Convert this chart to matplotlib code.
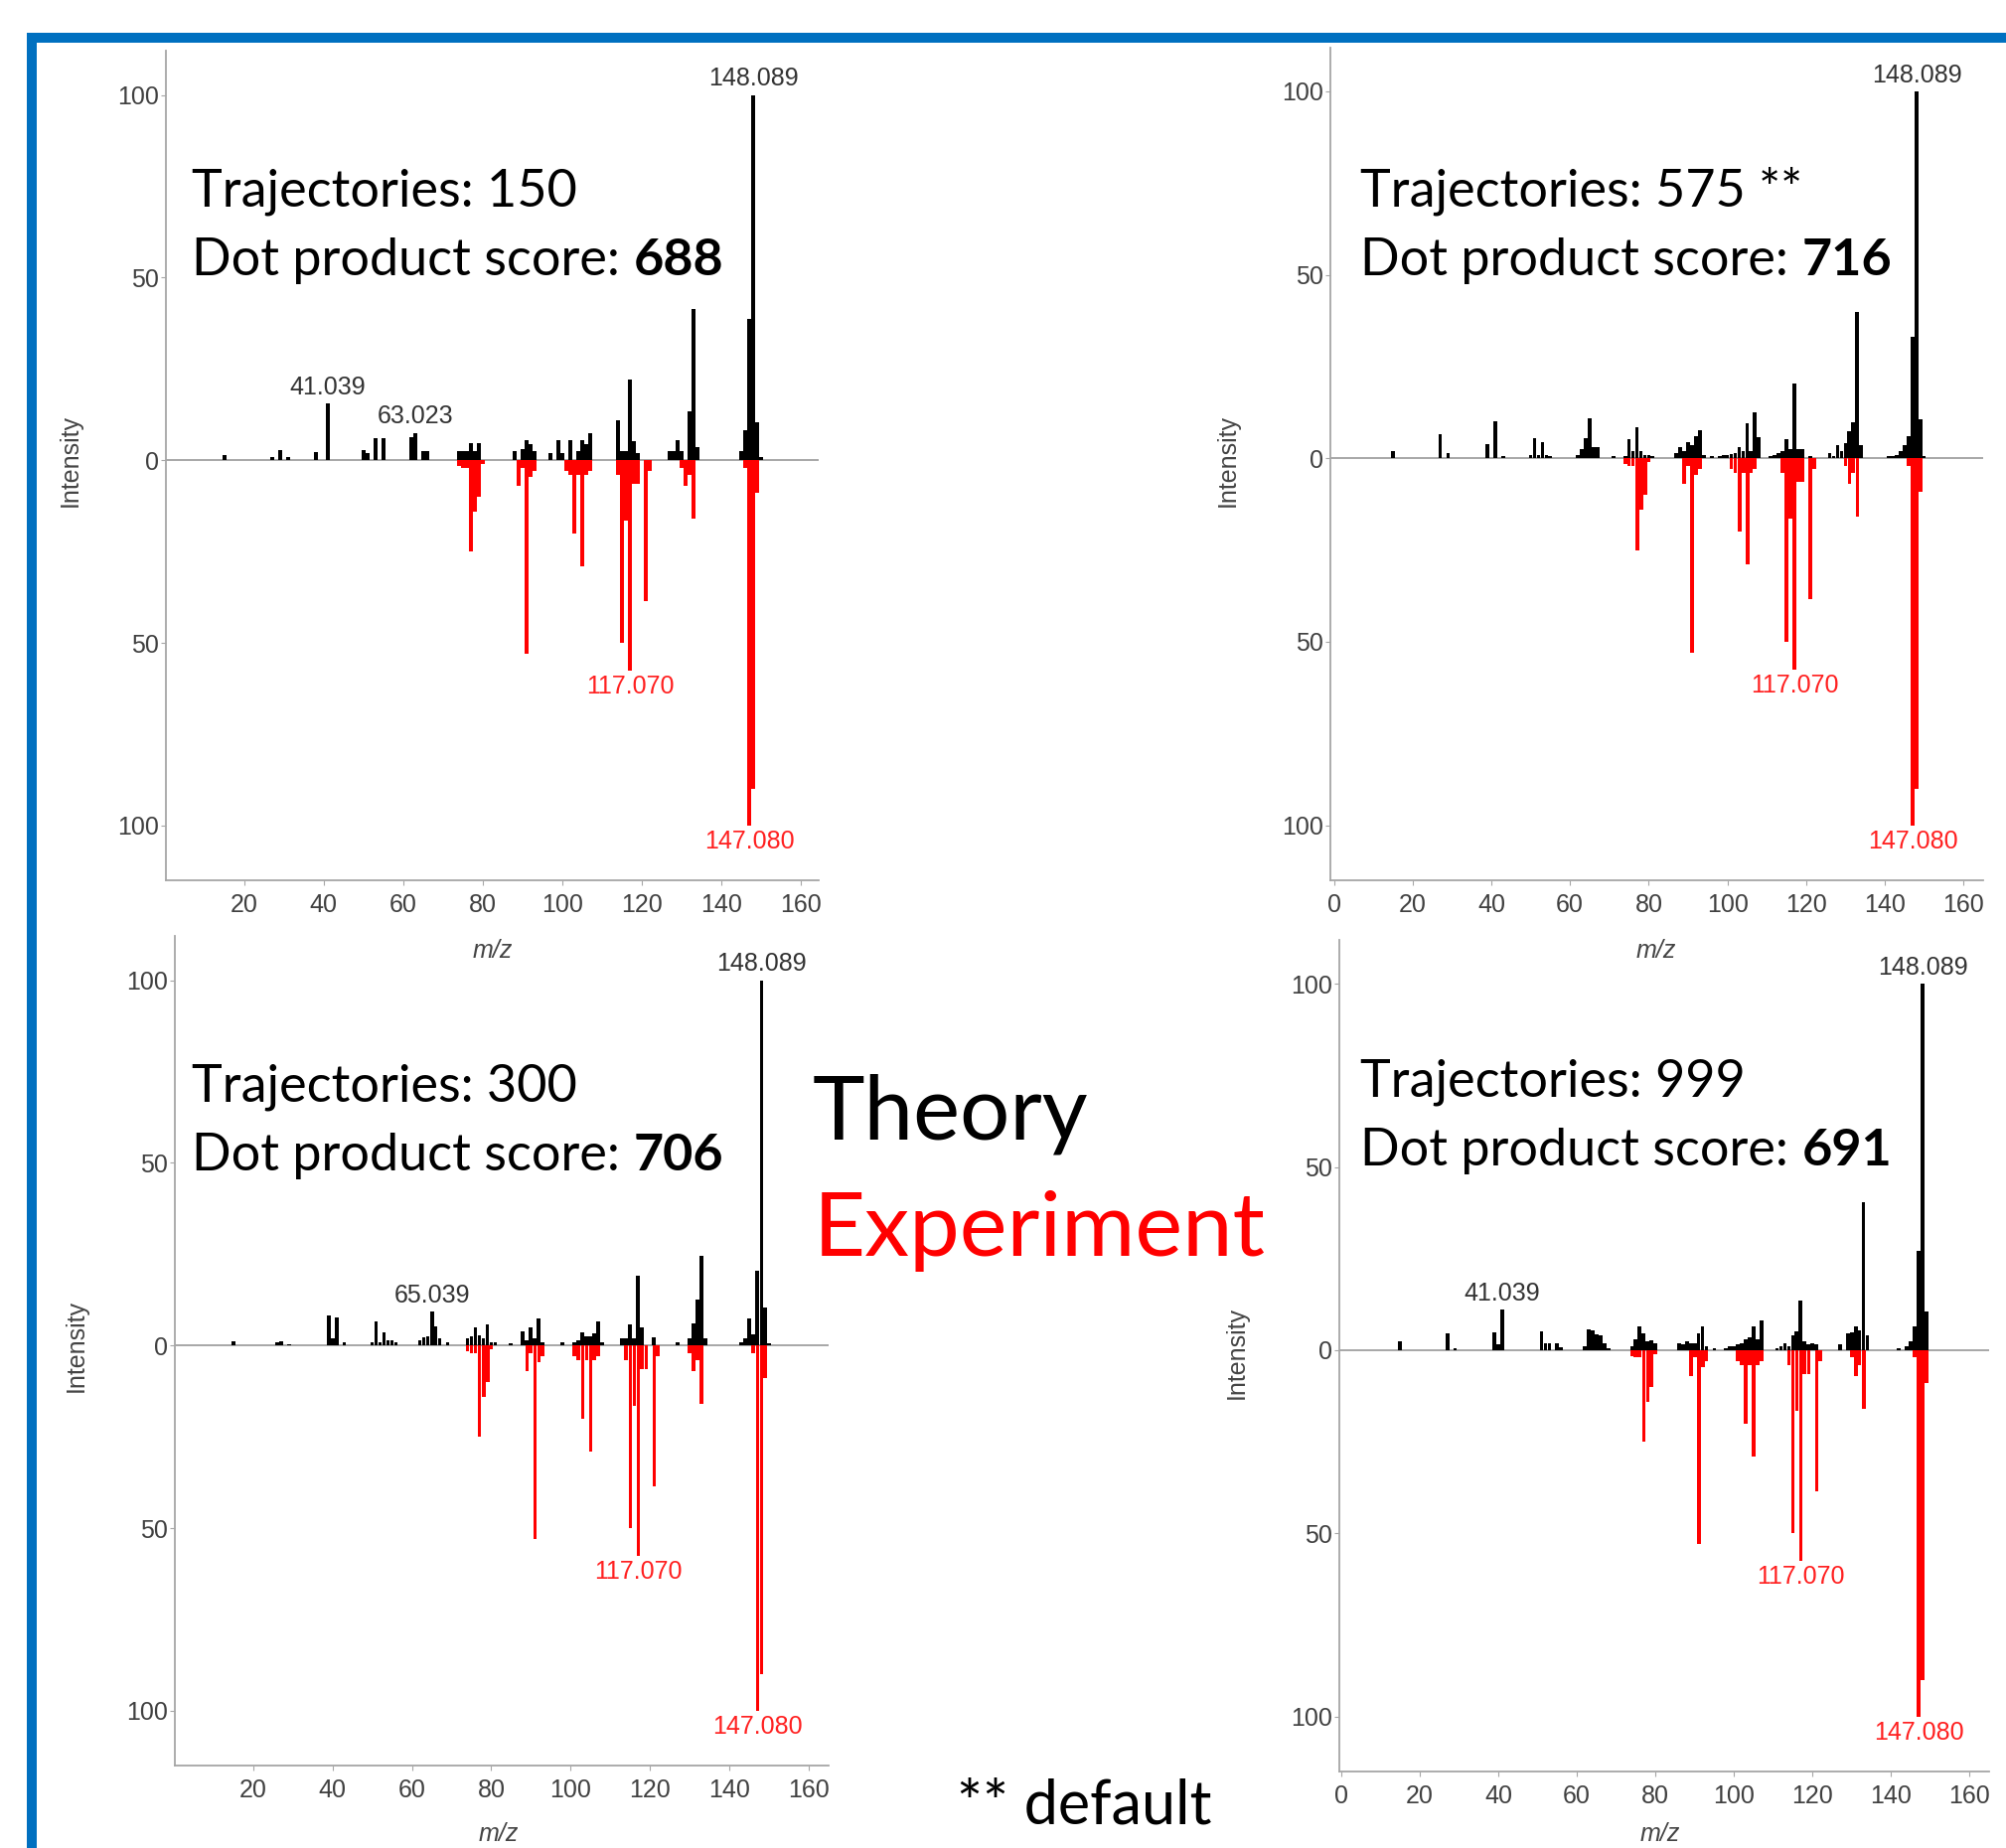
import matplotlib
matplotlib.use('Agg')
import matplotlib.pyplot as plt
from matplotlib.ticker import FuncFormatter, MultipleLocator
from matplotlib.patches import Rectangle

W, H = 2019, 1860
TF = 'Lato'              # slide text font
AF = 'Liberation Sans'   # chart text font

# experimental spectrum (drawn mirrored, red) - same in every panel
exp_mz = [74, 75, 76, 77.04, 78.05, 79.05, 80, 89.04, 90, 91.05, 92.05, 93,
          101, 102, 103.05, 104.05, 105.07, 106, 107, 114, 115.05, 116.05,
          117.07, 118, 119.05, 121.07, 122, 130, 131.05, 132, 133.06, 146,
          147.08, 148.08, 149]
exp_int = [1.5, 2, 2, 25, 14, 10, 1, 7, 2, 53, 4.5, 3,
           3, 4, 20, 4, 29, 4, 3, 4, 50, 16.5,
           57.5, 6.5, 6.5, 38.5, 3, 2, 7, 4, 16, 2,
           100, 90, 9]

# theoretical spectra (black), one per number of trajectories
th150_mz = [15, 27, 29, 31, 38, 41.039, 50, 51, 53, 55, 62, 63.023, 65, 66,
            74, 75, 76, 77, 78, 79, 88, 90, 91, 92, 93, 97, 99, 100, 102, 104,
            105, 106, 107, 114, 115, 116, 117, 118, 119, 127, 128, 129, 130,
            132, 133, 134, 145, 146, 147, 148.089, 149, 150]
th150_int = [1.5, 0.8, 2.9, 1, 2.3, 15.5, 2.7, 2, 6.1, 6.1, 6.4, 7.5, 2.5, 2.5,
             2.5, 2.5, 2.5, 4.7, 2.5, 4.7, 2.5, 3, 5.4, 4.5, 2.5, 2, 5.4, 2, 5.4, 2.5,
             5.4, 4.5, 7.5, 11, 2.5, 2.5, 22, 5.2, 2, 2.5, 2.5, 5.4, 2.5,
             13.5, 41.5, 3.6, 2.5, 8.2, 38.8, 100, 10.5, 1]

th575_mz = [15, 27, 29, 39, 41, 43, 50, 51, 52, 53, 54, 55, 62, 63, 64, 65, 66,
            67, 71, 74, 75, 76, 77, 78, 79, 80, 81, 87, 88, 89, 90, 91, 92, 93,
            94, 96, 98, 99, 100, 101, 102, 103, 104, 105, 106, 107, 108, 111,
            112, 113, 114, 115, 116, 117, 118, 119, 121, 126, 127, 128, 129,
            130, 131, 132, 133, 134, 141, 142, 143, 144, 145, 146, 147,
            148.089, 149, 150]
th575_int = [2, 6.7, 1.3, 3.8, 10.2, 0.5, 1, 5.4, 1, 4.5, 1, 0.5, 1, 2.5, 5.4,
             10.8, 3.1, 3, 0.5, 0.5, 5.2, 2, 8.4, 2, 1, 1, 0.5, 1.5, 3.1, 2, 4.5,
             3.5, 6, 7.7, 1, 0.5, 0.5, 0.8, 1, 1.2, 1.5, 3.1, 2, 9.5, 2, 12.5,
             5.8, 0.5, 1, 1.5, 2, 5.2, 2.5, 20.5, 2.5, 2.5, 0.5, 1.5, 0.5, 3.6,
             2, 4, 7.5, 9.9, 40, 3.6, 0.5, 0.5, 1, 2, 3.5, 6, 33, 100, 10.5, 0.5]

th300_mz = [15, 26, 27, 29, 39, 40, 41, 43, 50, 51, 52, 53, 54, 55, 56, 62, 63,
            64, 65.039, 66, 67, 69, 74, 75, 76, 77, 78, 79, 80, 81, 85, 88, 89,
            90, 91, 92, 93, 98, 101, 102, 103, 104, 105, 106, 107, 108, 113,
            114, 115, 116, 117, 118, 121, 127, 130, 131, 132, 133, 134, 143,
            144, 145, 146, 147, 148.089, 149, 150]
th300_int = [1.2, 1, 1.2, 0.3, 8.2, 2, 7.7, 1, 1, 6.7, 1, 3.6, 1.5, 1.5, 1, 1.5,
             2.2, 2.5, 9.3, 5.2, 2, 1, 2, 2.5, 4.9, 2.9, 2, 5.9, 1, 1, 0.5, 3.8,
             1.5, 5, 2, 7.5, 1, 0.8, 1, 1.5, 3.6, 2.5, 2.5, 3.2, 6.7, 1, 2, 2,
             5.9, 2, 19, 4.9, 2.3, 0.8, 2, 6.1, 12.6, 24.5, 2, 1, 2, 7.5, 3,
             20.5, 100, 10.4, 0.5]

th999_mz = [15, 27, 29, 39, 40, 41.039, 51, 52, 53, 55, 56, 62, 63, 64, 65, 66,
            67, 68, 74, 75, 76, 77, 78, 79, 80, 86, 87, 88, 89, 90, 91, 92, 93,
            95, 98, 99, 100, 101, 102, 103, 104, 105, 106, 107, 111, 112, 113,
            114, 115, 116, 117, 118, 119, 120, 121, 127, 129, 130, 131, 132,
            133, 134, 142, 144, 145, 146, 147, 148.089, 149]
th999_int = [2.3, 4.7, 0.5, 4.9, 1.5, 11.1, 5.2, 2, 2, 2, 0.8, 1, 5.8, 5.5, 4.3,
             4, 2, 0.5, 1, 3, 6.5, 4.5, 2.5, 2.7, 2, 2, 1.5, 2.5, 2, 2, 4.5,
             6.4, 1, 0.4, 0.5, 1, 1, 1.5, 2, 3, 3.5, 6.5, 3, 8.2, 0.5, 1, 2, 1,
             4, 5.2, 13.6, 2.5, 1.5, 2, 1.5, 1.5, 4.5, 5, 6.5, 5.5, 40.4, 4,
             0.5, 1, 2.5, 6.5, 27, 100, 10.6]

traj = ['150', '575 **', '300', '999']
scores = ['688', '716', '706', '691']
theory_labels = [['148.089', '41.039', '63.023'], ['148.089'],
                 ['148.089', '65.039'], ['148.089', '41.039']]
exp_labels = ['117.070', '147.080']


def px_rect(l, t, r, b):
    return [l / W, 1 - b / H, (r - l) / W, (b - t) / H]


fig = plt.figure(figsize=(W / 100, H / 100), dpi=100)

# blue slide frame
fig.add_artist(Rectangle((32 / W, -0.1), 1.2, 1.1 - 37.6 / H, transform=fig.transFigure,
                         fill=False, ec='#0070C0', lw=7.2))

layout = [
    dict(rect=px_rect(167, 51.5, 824, 886), xlim=(0.3, 164.5), tx=193, ty1=207.5, ty2=277,
         ylab=(71, 463.5), xlab=(496, 957)),
    dict(rect=px_rect(1339, 47.6, 1996, 886), xlim=(-0.9, 165), tx=1369, ty1=207.5, ty2=277,
         ylab=(1236, 463.5), xlab=(1667, 957)),
    dict(rect=px_rect(176, 942.5, 834, 1777), xlim=(0.3, 165), tx=193, ty1=1108.5, ty2=1178,
         ylab=(77, 1354.5), xlab=(502, 1846)),
    dict(rect=px_rect(1348, 946, 2002, 1783), xlim=(-0.5, 165), tx=1369, ty1=1103.5, ty2=1173,
         ylab=(1245, 1361), xlab=(1671, 1846)),
]
theory = [(th150_mz, th150_int), (th575_mz, th575_int), (th300_mz, th300_int), (th999_mz, th999_int)]

for i, lay in enumerate(layout):
    ax = fig.add_axes(lay['rect'])
    mz, inten = theory[i]
    ax.axhline(0, color='#a0a0a0', lw=1.3, zorder=1)
    ax.bar(mz, inten, width=0.95, color='black', lw=0, zorder=2)
    ax.bar(exp_mz, [-v for v in exp_int], width=0.95, color='#ff0000', lw=0, zorder=2)
    ax.set_xlim(*lay['xlim'])
    ax.set_ylim(-115, 112)
    ax.xaxis.set_major_locator(MultipleLocator(20))
    ax.set_yticks([-100, -50, 0, 50, 100])
    ax.yaxis.set_major_formatter(FuncFormatter(lambda v, p: '%d' % abs(v)))
    for s in ['top', 'right']:
        ax.spines[s].set_visible(False)
    for s in ['left', 'bottom']:
        ax.spines[s].set_color('#a6a6a6')
        ax.spines[s].set_linewidth(1.3)
    ax.tick_params(axis='y', length=3.5, pad=1.5, color='#a6a6a6', labelcolor='#404040', labelsize=18)
    ax.tick_params(axis='x', length=3.5, pad=6, color='#a6a6a6', labelcolor='#404040', labelsize=18)
    for lab in ax.get_xticklabels() + ax.get_yticklabels():
        lab.set_family(AF)

    # peak labels
    for lab in theory_labels[i]:
        k = min(range(len(mz)), key=lambda j: abs(mz[j] - float(lab)))
        ax.annotate(lab, (mz[k], inten[k]), xytext=(0, 3), textcoords='offset points',
                    ha='center', va='bottom', fontsize=18, family=AF, color='#333333')
    for lab in exp_labels:
        k = min(range(len(exp_mz)), key=lambda j: abs(exp_mz[j] - float(lab)))
        ax.annotate(lab, (exp_mz[k], -exp_int[k]), xytext=(0, -3), textcoords='offset points',
                    ha='center', va='top', fontsize=18, family=AF, color='#ff2020')

    fig.text(lay['ylab'][0] / W, 1 - lay['ylab'][1] / H, 'Intensity', rotation=90,
             ha='center', va='center', fontsize=18, family=AF, color='#444444')
    fig.text(lay['xlab'][0] / W, 1 - lay['xlab'][1] / H, 'm/z', style='italic',
             ha='center', va='center', fontsize=18, family=AF, color='#444444')

    fig.text(lay['tx'] / W, 1 - lay['ty1'] / H, 'Trajectories: ' + traj[i],
             fontsize=37.5, family=TF, va='baseline', color='black')
    t2 = fig.text(lay['tx'] / W, 1 - lay['ty2'] / H, 'Dot product score: ',
                  fontsize=37.5, family=TF, va='baseline', color='black')
    ax.annotate(scores[i], xy=(1, 0), xycoords=t2, va='bottom', ha='left',
                fontsize=37.5, family=TF, fontweight='bold', color='black')

fig.text(818 / W, 1 - 1146 / H, 'Theory', fontsize=64, family=TF, va='baseline', color='black')
fig.text(819 / W, 1 - 1264 / H, 'Experiment', fontsize=65, family=TF, va='baseline', color='#ff0000')
fig.text(963 / W, 1 - 1835 / H, '** default', fontsize=44, family=TF, va='baseline', color='black')

fig.savefig('out.png', dpi=100)
